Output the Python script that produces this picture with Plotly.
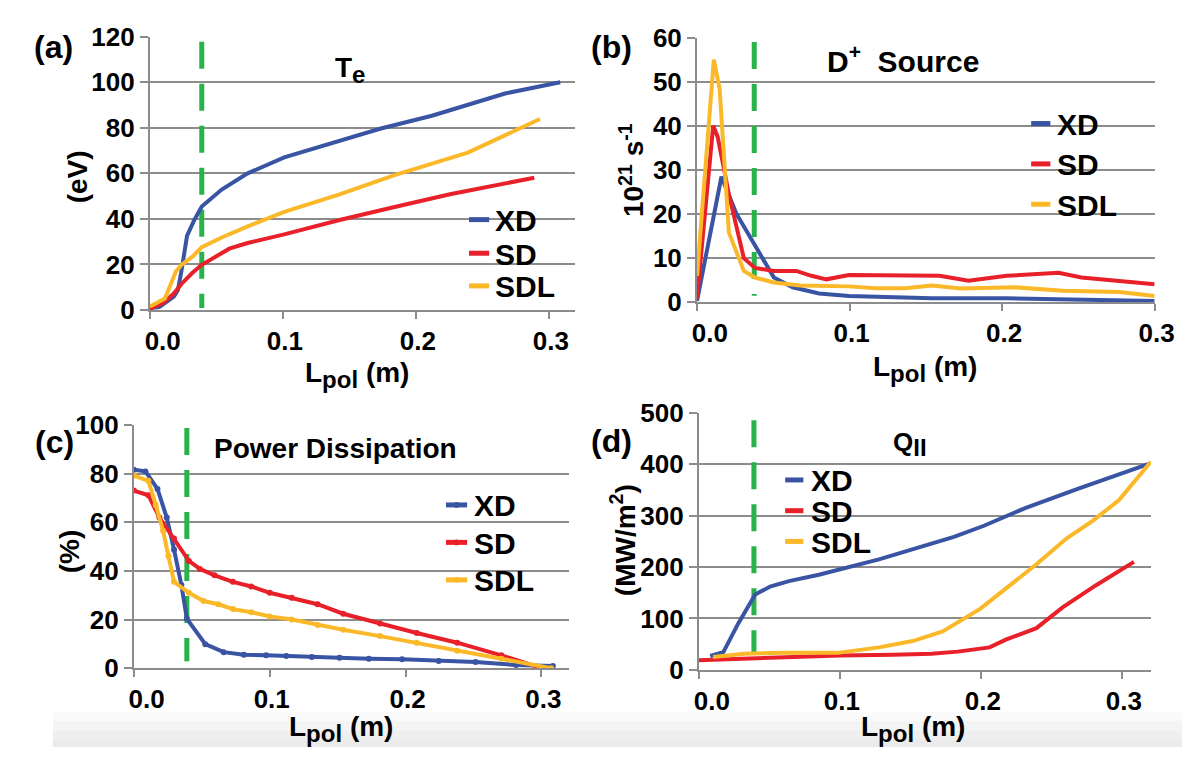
import plotly.graph_objects as go

W, H = 1202, 762
FONT = "Liberation Sans"
GRID = "#8c8c8c"
BLUE = "#3a54a4"
RED = "#e8202a"
YEL = "#fbb829"
GREEN = "#27b24a"

series_names = ["XD", "SD", "SDL"]
x_ticks = [0.0, 0.1, 0.2, 0.3]
# the first label sits a little right of its tick in the original
x_tick_text = ["\u00a0\u00a0\u00a00.0", "0.1", "0.2", "0.3"]

# ---- (a) Te (eV) ----
te_xd_x = [0.0, 0.007, 0.018, 0.021, 0.0237, 0.0279, 0.0334, 0.039, 0.054, 0.0735, 0.101, 0.129, 0.173, 0.212, 0.239, 0.267, 0.3085]
te_xd_y = [0.8, 1.3, 5.8, 8.6, 17.0, 32.5, 39.5, 45.4, 52.9, 60.0, 67.0, 71.9, 79.6, 85.3, 90.2, 95.1, 100.0]
te_sd_x = [0.0, 0.0099, 0.018, 0.0237, 0.032, 0.039, 0.0597, 0.0735, 0.101, 0.1426, 0.184, 0.2256, 0.289]
te_sd_y = [0.5, 3.0, 7.2, 11.4, 16.3, 19.8, 26.9, 29.4, 33.2, 39.5, 45.2, 50.8, 58.1]
te_sdl_x = [0.0, 0.0113, 0.0196, 0.0237, 0.032, 0.039, 0.054, 0.0735, 0.101, 0.1426, 0.184, 0.239, 0.2933]
te_sdl_y = [1.5, 5.0, 17.0, 19.8, 23.4, 27.6, 31.8, 36.7, 43.1, 50.8, 59.2, 69.1, 83.9]

# ---- (b) D+ source (1e21 s^-1) ----
src_xd_x = [0.0, 0.016, 0.0258, 0.038, 0.0504, 0.0627, 0.08, 0.0996, 0.154, 0.203, 0.252, 0.3]
src_xd_y = [0.3, 28.5, 20.1, 12.9, 5.6, 3.4, 2.0, 1.4, 0.9, 0.9, 0.5, 0.3]
src_sd_x = [0.0, 0.0106, 0.0135, 0.0209, 0.0307, 0.038, 0.0504, 0.065, 0.075, 0.0848, 0.0996, 0.129, 0.159, 0.178, 0.203, 0.237, 0.252, 0.3]
src_sd_y = [0.9, 40.1, 37.6, 24.5, 10.0, 7.8, 7.1, 7.1, 6.0, 5.2, 6.2, 6.0, 6.0, 4.9, 6.0, 6.7, 5.6, 4.1]
src_sdl_x = [0.0, 0.011, 0.0148, 0.0209, 0.0307, 0.038, 0.0504, 0.0676, 0.0996, 0.117, 0.1365, 0.154, 0.173, 0.208, 0.24, 0.277, 0.3]
src_sdl_y = [6.0, 55.1, 48.5, 15.8, 7.1, 5.6, 4.5, 3.8, 3.6, 3.2, 3.2, 3.8, 3.1, 3.4, 2.6, 2.3, 1.4]

# ---- (c) Power dissipation (%) ----
pd_xd_x = [0.0, 0.0085, 0.0174, 0.0242, 0.0296, 0.035, 0.039, 0.0526, 0.0661, 0.081, 0.0973, 0.1122, 0.131, 0.1514, 0.173, 0.1974, 0.2244, 0.2515, 0.2813, 0.3084]
pd_xd_y = [81.6, 80.9, 73.7, 61.9, 48.7, 34.2, 20.4, 9.9, 6.6, 5.5, 5.3, 5.0, 4.6, 4.3, 3.9, 3.7, 3.0, 2.6, 1.3, 0.9]
pd_sd_x = [0.0, 0.0107, 0.0188, 0.0296, 0.0405, 0.0486, 0.0594, 0.0729, 0.0864, 0.1, 0.1162, 0.1352, 0.1541, 0.1812, 0.2082, 0.238, 0.2705, 0.3002]
pd_sd_y = [73.0, 71.1, 61.9, 53.3, 44.1, 40.8, 38.2, 35.5, 33.6, 31.0, 29.0, 26.3, 22.4, 18.4, 14.5, 10.5, 5.3, 0.0]
pd_sdl_x = [0.0, 0.0107, 0.0161, 0.0215, 0.0255, 0.0296, 0.0405, 0.0513, 0.0621, 0.0729, 0.0864, 0.1, 0.1162, 0.1352, 0.1541, 0.1812, 0.2082, 0.238, 0.2705, 0.3071]
pd_sdl_y = [79.2, 77.0, 67.1, 56.5, 46.0, 35.5, 31.0, 27.6, 26.3, 24.3, 23.0, 21.3, 20.0, 17.8, 15.8, 13.2, 10.5, 7.2, 3.9, 0.0]

# ---- (d) Q|| (MW/m^2) ----
q_xd_x = [0.008, 0.0173, 0.0279, 0.0399, 0.0505, 0.0638, 0.0851, 0.1011, 0.1277, 0.1543, 0.1809, 0.2022, 0.2314, 0.2687, 0.298, 0.3192]
q_xd_y = [26.9, 34.4, 90.5, 146.6, 162.1, 172.8, 185.1, 196.4, 215.0, 236.9, 258.8, 280.5, 314.9, 352.3, 380.4, 400.9]
q_sd_x = [0.0, 0.045, 0.1, 0.138, 0.165, 0.1836, 0.2062, 0.2181, 0.2394, 0.258, 0.282, 0.3086]
q_sd_y = [18.7, 23.2, 28.0, 29.4, 31.2, 35.5, 43.8, 59.3, 81.2, 121.6, 165.3, 210.2]
q_sdl_x = [0.0101, 0.0319, 0.0585, 0.0984, 0.1277, 0.1516, 0.1729, 0.1995, 0.2181, 0.2394, 0.2607, 0.2793, 0.298, 0.3086, 0.3206]
q_sdl_y = [25.1, 31.2, 33.1, 33.1, 43.8, 56.1, 74.8, 118.6, 159.0, 205.7, 255.6, 289.9, 330.4, 364.7, 405.2]

# X-point marker (green dashed) per panel: x, y-top, y-bottom
xpt_a = [0.039, 117.8, 0.8]
xpt_b = [0.0375, 59.1, 1.5]
xpt_c = [0.039, 98.7, 2.9]
xpt_d = [0.039, 486.0, 34.0]

y_ranges = {"a": [0, 120], "b": [0, 60], "c": [0, 100], "d": [0, 500]}
y_dticks = {"a": 20, "b": 10, "c": 20, "d": 100}


def px(x):
    return x / W


def py(y):
    return 1 - y / H


# plot-area boxes in pixels: left, right, top, bottom
boxes = {
    "a": (127.9, 570.0, 22.7, 307.0),
    "b": (697.3, 1173.5, 24.0, 299.0),
    "c": (111.2, 564.5, 426.7, 680.0),
    "d": (699.3, 1169.6, 414.3, 681.7),
}
x_ranges = {"a": [0, 0.3194], "b": [0, 0.3], "c": [0, 0.3206], "d": [0, 0.3206]}
axis_ids = {"a": ("x", "y"), "b": ("x2", "y2"), "c": ("x3", "y3"), "d": ("x4", "y4")}

panel_data = {
    "a": [(te_xd_x, te_xd_y), (te_sd_x, te_sd_y), (te_sdl_x, te_sdl_y)],
    "b": [(src_xd_x, src_xd_y), (src_sd_x, src_sd_y), (src_sdl_x, src_sdl_y)],
    "c": [(pd_xd_x, pd_xd_y), (pd_sd_x, pd_sd_y), (pd_sdl_x, pd_sdl_y)],
    "d": [(q_xd_x, q_xd_y), (q_sd_x, q_sd_y), (q_sdl_x, q_sdl_y)],
}
xpts = {"a": xpt_a, "b": xpt_b, "c": xpt_c, "d": xpt_d}
colors = [BLUE, RED, YEL]

fig = go.Figure()

for p in ["a", "b", "c", "d"]:
    xa, ya = axis_ids[p]
    xv, yt, yb = xpts[p]
    fig.add_trace(go.Scatter(
        x=[xv, xv], y=[yt, yb], xaxis=xa, yaxis=ya, mode="lines",
        line=dict(color=GREEN, width=5, dash="27px,15px"),
        showlegend=False, hoverinfo="skip"))
    for i, (xs, ys) in enumerate(panel_data[p]):
        mode = "lines+markers" if p == "c" else "lines"
        fig.add_trace(go.Scatter(
            x=xs, y=ys, xaxis=xa, yaxis=ya, mode=mode, name=series_names[i],
            line=dict(color=colors[i], width=4),
            marker=dict(size=6, color=colors[i]), showlegend=False))

tickfont = dict(family=FONT, size=26, color="black", weight="bold")
layout = dict(
    width=W, height=H, margin=dict(l=0, r=0, t=0, b=0),
    paper_bgcolor="white", plot_bgcolor="white", showlegend=False,
)
for p in ["a", "b", "c", "d"]:
    l, r, t, b = boxes[p]
    xa, ya = axis_ids[p]
    xkey = "xaxis" if xa == "x" else "xaxis" + xa[1:]
    ykey = "yaxis" if ya == "y" else "yaxis" + ya[1:]
    layout[xkey] = dict(
        domain=[px(l), px(r)], range=x_ranges[p], anchor=ya,
        tickvals=x_ticks, ticktext=x_tick_text, ticklabelshift=2,
        showgrid=False, zeroline=False,
        showline=True, linecolor=GRID, linewidth=2, ticks="outside",
        tickcolor=GRID, tickwidth=2, ticklen=7, tickfont=tickfont)
    layout[ykey] = dict(
        domain=[py(b), py(t)], range=y_ranges[p], anchor=xa,
        dtick=y_dticks[p], tick0=0, showgrid=True, gridcolor=GRID, gridwidth=2,
        zeroline=False, showline=True, linecolor=GRID, linewidth=2,
        ticks="outside", tickcolor=GRID, tickwidth=2, ticklen=8,
        tickfont=tickfont)

fig.update_layout(**layout)

ann = []
shapes = []


def add_text(text, x, y, size, angle=0, xanchor="center"):
    ann.append(dict(text=text, x=px(x), y=py(y), xref="paper", yref="paper",
                    showarrow=False, xanchor=xanchor, yanchor="middle",
                    textangle=angle,
                    font=dict(family=FONT, size=size, color="black", weight="bold")))


# panel labels
add_text("(a)", 28, 33, 32)
add_text("(b)", 608, 33, 32)
add_text("(c)", 29, 444, 32)
add_text("(d)", 608, 443, 32)
# titles
add_text("T<sub><span style='font-size:24px'>e</span></sub>", 336, 57, 28)
add_text("D<sup>+</sup>  Source", 912, 46, 30)
add_text("Power Dissipation", 321, 451, 28)
add_text("Q<sub><span style='font-size:24px'>II</span></sub>", 919, 447, 26)
# axis titles
xt = "L<sub><span style='font-size:24px'>pol</span></sub> (m)"
add_text(xt, 343, 375, 28)
add_text(xt, 935, 368, 28)
add_text(xt, 327, 743, 28)
add_text(xt, 922, 743, 28)
add_text("(eV)", 52, 168, 28, -90)
add_text("10<sup>21</sup> s<sup>-1</sup>", 629, 161, 28, -90)
add_text("(%)", 44, 558, 28, -90)
add_text("(MW/m<sup>2</sup>)", 621, 547, 28, -90)

# legends: key start x, key end x, text x, item centre y values
legend_layout = {
    "a": (460, 481, 485, [213, 248, 282]),
    "b": (1045, 1065, 1070, [113, 155, 197]),
    "c": (436, 458, 463, [510, 549, 588]),
    "d": (789, 808, 814, [484, 516, 548]),
}
for p, (k0, k1, tx, ys) in legend_layout.items():
    for i, yc in enumerate(ys):
        shapes.append(dict(type="line", xref="paper", yref="paper",
                           x0=px(k0), x1=px(k1), y0=py(yc), y1=py(yc),
                           line=dict(color=colors[i], width=5)))
        if p == "c":
            cx = (k0 + k1) / 2
            shapes.append(dict(type="circle", xref="paper", yref="paper",
                               x0=px(cx - 3), x1=px(cx + 3), y0=py(yc + 3), y1=py(yc - 3),
                               fillcolor=colors[i], line=dict(width=0)))
        add_text(series_names[i], tx, yc + 1, 30, xanchor="left")

band = [(726, "#fafafa"), (735, "#f4f4f4"), (745, "#efefef"), (754, "#ebebeb")]
for y0, c in band:
    shapes.append(dict(type="rect", xref="paper", yref="paper", x0=px(27), x1=1,
                       y0=0, y1=py(y0), fillcolor=c, line=dict(width=0),
                       layer="below"))

fig.update_layout(annotations=ann, shapes=shapes)
fig.write_html("out.html")
